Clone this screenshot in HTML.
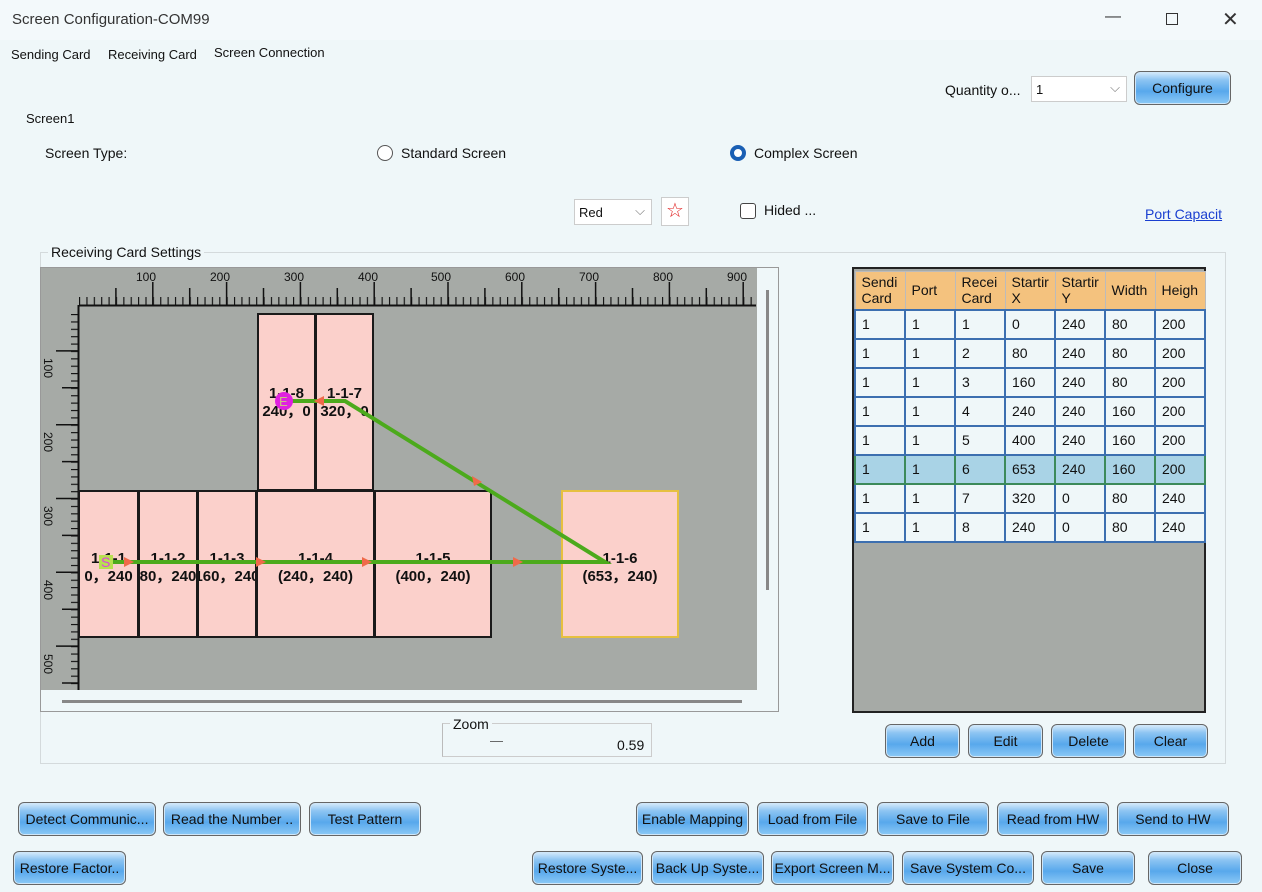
<!DOCTYPE html>
<html><head><meta charset="utf-8"><style>
*{box-sizing:border-box}
body{margin:0;width:1262px;height:892px;background:#eff7f9;font-family:"Liberation Sans",sans-serif;position:relative;overflow:hidden;color:#111}
.a{position:absolute;white-space:nowrap}
.btn{position:absolute;height:34px;border:1px solid #666;border-radius:6px;background:linear-gradient(#d8ecfb 0%,#8cc4f2 25%,#58a8ec 60%,#8ccaf6 100%);font-size:14px;text-align:center;line-height:32px;color:#111;overflow:hidden;white-space:nowrap;box-shadow:inset 0 0 0 1px #cfe6f8}
table{border-collapse:collapse;position:absolute;left:854px;top:271px;font-size:14px}
td{border:2px solid #3c6fb0;height:29px;padding:0 0 0 6px;width:50px;background:#eff7f9}
th{background:#f4c27e;font-weight:normal;text-align:left;padding:0 0 0 6px;height:38px;border:1px solid #bbb;line-height:16px;overflow:hidden;width:50px;max-width:50px}
tr.sel td{background:#a9d3e6;border-color:#3c8a5a}
.card{position:absolute;background:#fbd0cb;border:2px solid #1a1a1a;font:bold 15px "Liberation Sans",sans-serif;text-align:center;line-height:18px;overflow:hidden;white-space:nowrap;display:flex;flex-direction:column;align-items:center}
</style></head><body>
<div class="a" style="left:0;top:0;width:1262px;height:40px;background:#f3f9fb"></div>
<div class="a" style="left:12px;top:11px;font-size:15px;color:#333">Screen Configuration-COM99</div>
<div class="a" style="left:1105px;top:8px;font-size:16px;color:#333">—</div>
<div class="a" style="left:1166px;top:13px;width:12px;height:12px;border:1px solid #333"></div>
<div class="a" style="left:1222px;top:7px;font-size:20px;color:#333">✕</div>
<div class="a" style="left:11px;top:47px;font-size:13px">Sending Card</div>
<div class="a" style="left:108px;top:47px;font-size:13px">Receiving Card</div>
<div class="a" style="left:214px;top:45px;font-size:13px">Screen Connection</div>
<div class="a" style="left:945px;top:82px;font-size:14px">Quantity o...</div>
<div class="a" style="left:1031px;top:76px;width:96px;height:26px;background:#fff;border:1px solid #ccc;font-size:13px;padding:5px 4px">1<span style="position:absolute;right:6px;top:3px;color:#777">⌵</span></div>
<div class="btn" style="left:1134px;top:71px;width:97px">Configure</div>
<div class="a" style="left:26px;top:111px;font-size:13px">Screen1</div>
<div class="a" style="left:45px;top:145px;font-size:14px">Screen Type:</div>
<div class="a" style="left:377px;top:145px;width:16px;height:16px;border:1px solid #555;border-radius:50%;background:#fff"></div>
<div class="a" style="left:401px;top:145px;font-size:14px">Standard Screen</div>
<div class="a" style="left:730px;top:145px;width:16px;height:16px;border:4px solid #1a5fb4;border-radius:50%;background:#fff"></div>
<div class="a" style="left:754px;top:145px;font-size:14px">Complex Screen</div>
<div class="a" style="left:574px;top:199px;width:78px;height:26px;background:#fff;border:1px solid #ccc;font-size:13px;padding:5px 4px">Red<span style="position:absolute;right:6px;top:3px;color:#777">⌵</span></div>
<div class="a" style="left:661px;top:197px;width:28px;height:29px;background:#fff;border:1px solid #ccc;color:#e02020;font-size:20px;text-align:center;line-height:27px">☆</div>
<div class="a" style="left:740px;top:203px;width:16px;height:16px;border:1px solid #444;border-radius:3px;background:#fff"></div>
<div class="a" style="left:764px;top:202px;font-size:14px">Hided ...</div>
<div class="a" style="left:1145px;top:206px;font-size:14px;color:#1a3fd0;text-decoration:underline">Port Capacit</div>
<div class="a" style="left:40px;top:252px;width:1186px;height:512px;border:1px solid #d4dadc"></div>
<div class="a" style="left:48px;top:244px;font-size:14px;background:#eff7f9;padding:0 3px">Receiving Card Settings</div>
<div class="a" style="left:40px;top:267px;width:739px;height:445px;border:1px solid #999;background:#eff7f9"></div>
<svg class="a" style="left:0;top:0" width="1262" height="892">
<defs>
<pattern id="tx" patternUnits="userSpaceOnUse" x="79" y="0" width="7.38" height="892"><line x1="0.5" y1="297" x2="0.5" y2="305" stroke="#111" stroke-width="1.3"/></pattern>
<pattern id="ty" patternUnits="userSpaceOnUse" x="0" y="314" width="1262" height="7.38"><line x1="71" y1="0.5" x2="79" y2="0.5" stroke="#111" stroke-width="1.3"/></pattern>
</defs>
<rect x="41" y="268" width="716" height="422" fill="#a6aaa6"/>
<rect x="79" y="290" width="677" height="16" fill="url(#tx)"/>
<rect x="60" y="314" width="20" height="376" fill="url(#ty)"/>
<line x1="79" y1="305.5" x2="756" y2="305.5" stroke="#111" stroke-width="2"/>
<line x1="78.5" y1="305" x2="78.5" y2="690" stroke="#111" stroke-width="2"/>
<g stroke="#111" stroke-width="1.5">
<path d="M115.9 288V305M189.7 288V305M263.5 288V305M337.3 288V305M411.1 288V305M484.9 288V305M558.7 288V305M632.5 288V305M706.3 288V305"/>
<path d="M152.8 282V305M226.6 282V305M300.4 282V305M374.2 282V305M448 282V305M521.8 282V305M595.6 282V305M669.4 282V305M743.2 282V305"/>
<path d="M56 350.9H79M56 424.7H79M56 498.5H79M56 572.3H79M56 646.1H79"/>
<path d="M62 387.8H79M62 461.6H79M62 535.4H79M62 609.2H79M62 683H79"/>
</g>
<g font-size="12" fill="#111" font-family="Liberation Sans">
<text x="136" y="281">100</text><text x="210" y="281">200</text><text x="284" y="281">300</text><text x="358" y="281">400</text><text x="431" y="281">500</text><text x="505" y="281">600</text><text x="579" y="281">700</text><text x="653" y="281">800</text><text x="727" y="281">900</text>
<g transform="rotate(90)"><text x="358" y="-44">100</text><text x="432" y="-44">200</text><text x="506" y="-44">300</text><text x="580" y="-44">400</text><text x="654" y="-44">500</text></g>
</g>
<rect x="766" y="290" width="3" height="300" fill="#888"/>
<rect x="62" y="700" width="680" height="3" fill="#888"/>
</svg>
<div class="card" style="left:257px;top:313px;width:59px;height:178px;padding-top:70px"><span>1-1-8</span><span>240，0</span></div>
<div class="card" style="left:315px;top:313px;width:59px;height:178px;padding-top:70px"><span>1-1-7</span><span>320，0</span></div>
<div class="card" style="left:78px;top:490px;width:61px;height:148px;padding-top:58px"><span>1-1-1</span><span>0，240</span></div>
<div class="card" style="left:138px;top:490px;width:60px;height:148px;padding-top:58px"><span>1-1-2</span><span>80，240</span></div>
<div class="card" style="left:197px;top:490px;width:60px;height:148px;padding-top:58px"><span>1-1-3</span><span>160，240</span></div>
<div class="card" style="left:256px;top:490px;width:119px;height:148px;padding-top:58px"><span>1-1-4</span><span>(240，240)</span></div>
<div class="card" style="left:374px;top:490px;width:118px;height:148px;padding-top:58px"><span>1-1-5</span><span>(400，240)</span></div>
<div class="card" style="left:561px;top:490px;width:118px;height:148px;padding-top:58px;border-color:#e6c040"><span>1-1-6</span><span>(653，240)</span></div>
<svg class="a" style="left:0;top:0" width="1262" height="892">
<polyline points="106,562 605,562 345,401 283,401" fill="none" stroke="#4caa1c" stroke-width="4"/>
<g fill="#f06a4a"><path d="M124 557L134 562L124 567Z"/><path d="M256 557L266 562L256 567Z"/><path d="M362 557L372 562L362 567Z"/><path d="M513 557L523 562L513 567Z"/><path d="M472 476L482 482L474 486Z"/><path d="M324 396L314 401L324 406Z"/></g>
<circle cx="284" cy="401" r="9" fill="#e020e0"/>
<text x="279" y="406" font-size="13" fill="#c9c080" font-family="Liberation Sans">E</text>
<rect x="99" y="555" width="14" height="14" fill="#b8e050"/>
<text x="101" y="567" font-size="14" fill="#e040e0" font-family="Liberation Sans">S</text>
</svg>
<div class="a" style="left:852px;top:267px;width:354px;height:446px;border:2px solid #222;background:#a6aaa6"></div>
<table>
<tr><th>Sendi<br>Card</th><th>Port</th><th>Recei<br>Card</th><th>Startir<br>X</th><th>Startir<br>Y</th><th>Width</th><th>Heigh</th></tr>
<tr><td>1</td><td>1</td><td>1</td><td>0</td><td>240</td><td>80</td><td>200</td></tr>
<tr><td>1</td><td>1</td><td>2</td><td>80</td><td>240</td><td>80</td><td>200</td></tr>
<tr><td>1</td><td>1</td><td>3</td><td>160</td><td>240</td><td>80</td><td>200</td></tr>
<tr><td>1</td><td>1</td><td>4</td><td>240</td><td>240</td><td>160</td><td>200</td></tr>
<tr><td>1</td><td>1</td><td>5</td><td>400</td><td>240</td><td>160</td><td>200</td></tr>
<tr class="sel"><td>1</td><td>1</td><td>6</td><td>653</td><td>240</td><td>160</td><td>200</td></tr>
<tr><td>1</td><td>1</td><td>7</td><td>320</td><td>0</td><td>80</td><td>240</td></tr>
<tr><td>1</td><td>1</td><td>8</td><td>240</td><td>0</td><td>80</td><td>240</td></tr>
</table>
<div class="a" style="left:442px;top:723px;width:210px;height:34px;border:1px solid #ccc;border-left-color:#bbb"></div>
<div class="a" style="left:450px;top:716px;font-size:14px;background:#eff7f9;padding:0 3px">Zoom</div>
<div class="a" style="left:490px;top:733px;font-size:13px;color:#555">—</div>
<div class="a" style="left:617px;top:737px;font-size:14px">0.59</div>
<div class="btn" style="left:885px;top:724px;width:75px">Add</div>
<div class="btn" style="left:968px;top:724px;width:75px">Edit</div>
<div class="btn" style="left:1051px;top:724px;width:75px">Delete</div>
<div class="btn" style="left:1133px;top:724px;width:75px">Clear</div>
<div class="btn" style="left:18px;top:802px;width:138px">Detect Communic...</div>
<div class="btn" style="left:163px;top:802px;width:138px">Read the Number ..</div>
<div class="btn" style="left:309px;top:802px;width:112px">Test Pattern</div>
<div class="btn" style="left:636px;top:802px;width:113px">Enable Mapping</div>
<div class="btn" style="left:757px;top:802px;width:111px">Load from File</div>
<div class="btn" style="left:877px;top:802px;width:112px">Save to File</div>
<div class="btn" style="left:997px;top:802px;width:112px">Read from HW</div>
<div class="btn" style="left:1117px;top:802px;width:112px">Send to HW</div>
<div class="btn" style="left:13px;top:851px;width:113px">Restore Factor..</div>
<div class="btn" style="left:532px;top:851px;width:111px">Restore Syste...</div>
<div class="btn" style="left:651px;top:851px;width:113px">Back Up Syste...</div>
<div class="btn" style="left:771px;top:851px;width:123px">Export Screen M...</div>
<div class="btn" style="left:902px;top:851px;width:132px">Save System Co...</div>
<div class="btn" style="left:1041px;top:851px;width:94px">Save</div>
<div class="btn" style="left:1148px;top:851px;width:94px">Close</div>
</body></html>
